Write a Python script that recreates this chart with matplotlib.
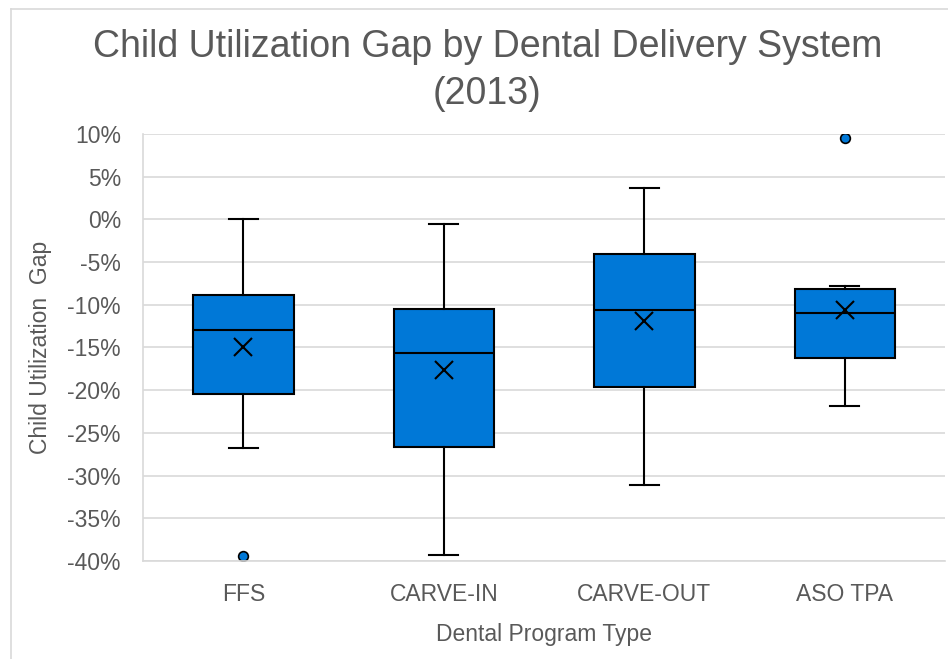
import matplotlib.pyplot as plt
from matplotlib.lines import Line2D
from matplotlib.ticker import FuncFormatter

plt.rcParams["font.family"] = ["Liberation Sans", "DejaVu Sans"]

# Box-plot summary values (percent)
categories = ["FFS", "CARVE-IN", "CARVE-OUT", "ASO TPA"]
whisker_low = [-26.8, -39.3, -31.1, -21.8]
q1 = [-20.5, -26.7, -19.6, -16.2]
median = [-13.0, -15.6, -10.6, -11.0]
q3 = [-8.9, -10.45, -4.0, -8.2]
whisker_high = [0.0, -0.5, 3.7, -7.8]
mean = [-15.0, -17.6, -11.9, -10.6]
outliers = [[-39.4], [], [], [9.5]]

blue = "#0078D7"
text_color = "#595959"
grid_color = "#D9D9D9"

stats = []
for i, name in enumerate(categories):
    stats.append({
        "label": name,
        "whislo": whisker_low[i],
        "q1": q1[i],
        "med": median[i],
        "q3": q3[i],
        "whishi": whisker_high[i],
        "mean": mean[i],
        "fliers": outliers[i],
    })

fig = plt.figure(figsize=(9.48, 6.59), dpi=100)
ax = fig.add_axes([0.151, 0.1487, 0.846, 0.648])

ax.bxp(
    stats,
    positions=range(len(categories)),
    widths=0.5,
    capwidths=0.145,
    showmeans=True,
    patch_artist=True,
    boxprops=dict(facecolor=blue, edgecolor="black", linewidth=1.5),
    medianprops=dict(color="black", linewidth=1.5),
    whiskerprops=dict(color="black", linewidth=1.5),
    capprops=dict(color="black", linewidth=1.5),
    meanprops=dict(marker="x", markersize=13, markeredgecolor="black",
                   markeredgewidth=1.5),
    flierprops=dict(marker="o", markersize=7, markerfacecolor=blue,
                    markeredgecolor="black", markeredgewidth=1.2),
)

ax.set_xlim(-0.5, 3.5)
ax.set_ylim(-40, 10)
ax.set_yticks(range(-40, 11, 5))
ax.yaxis.set_major_formatter(FuncFormatter(lambda v, p: f"{v:.0f}%"))
ax.grid(axis="y", color=grid_color, linewidth=1.2)
ax.set_axisbelow(True)

for side in ["top", "right"]:
    ax.spines[side].set_visible(False)
for side in ["left", "bottom"]:
    ax.spines[side].set_color(grid_color)
    ax.spines[side].set_linewidth(1.2)

ax.tick_params(axis="both", length=0, labelsize=16.5, labelcolor=text_color)
ax.tick_params(axis="y", pad=16)
ax.tick_params(axis="x", pad=16)

ax.set_xlabel("Dental Program Type", fontsize=16.5, color=text_color, labelpad=12)
ax.set_ylabel("Child Utilization  Gap", fontsize=16.5, color=text_color, labelpad=11)

fig.text(0.514, 0.893, "Child Utilization Gap by Dental Delivery System\n(2013)",
         ha="center", va="center", fontsize=27, color=text_color, linespacing=1.4)

# chart border
fig.add_artist(Line2D([11 / 948, 11 / 948], [0, 1 - 9 / 659], color=grid_color,
                      linewidth=1.2, transform=fig.transFigure))
fig.add_artist(Line2D([11 / 948, 1], [1 - 9 / 659, 1 - 9 / 659], color=grid_color,
                      linewidth=1.2, transform=fig.transFigure))

fig.savefig("out.png", dpi=100)
